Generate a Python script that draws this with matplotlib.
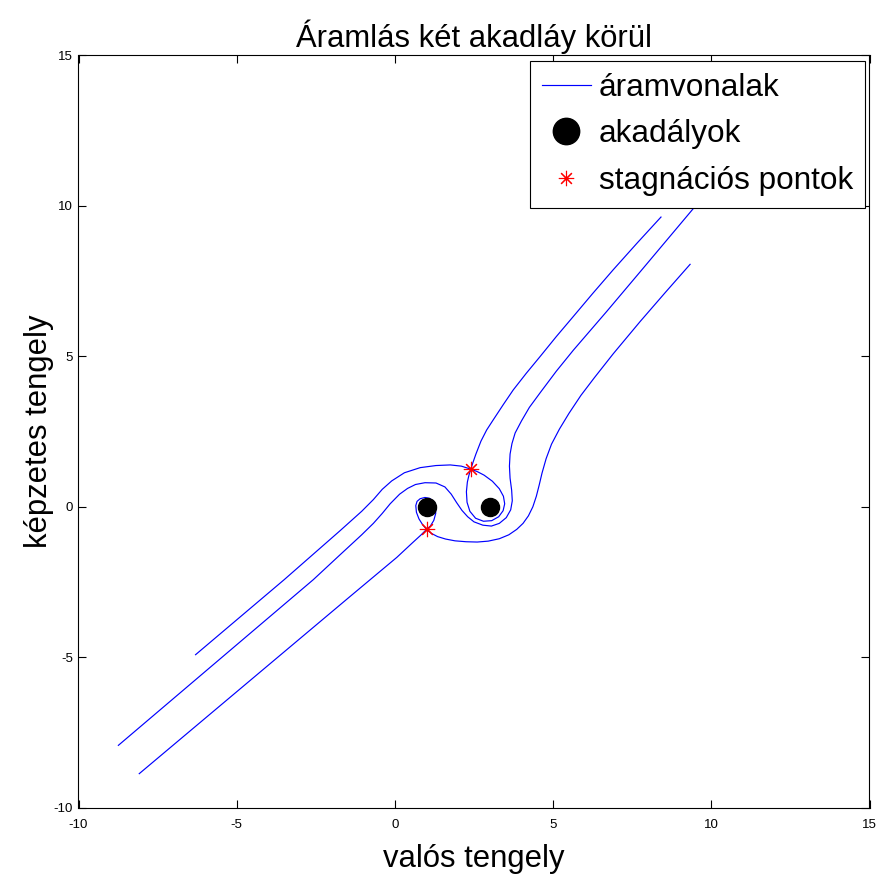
import matplotlib
matplotlib.use("Agg")
import matplotlib.pyplot as plt

plt.rcParams['font.family'] = ['Liberation Sans', 'DejaVu Sans']
plt.rcParams['axes.unicode_minus'] = False

# ---- data ----
# streamline A: from lower-left to upper stagnation point
a_low_x = [-6.30, -3.50, -1.74, -1.05, -0.68, -0.40, -0.10, 0.30, 0.80, 1.30, 1.75, 2.10, 2.40]
a_low_y = [-4.91, -2.42, -0.80, -0.15, 0.24, 0.58, 0.86, 1.13, 1.30, 1.37, 1.39, 1.35, 1.25]
# streamline A: branch from upper stagnation point to upper-right
a_up_x = [2.40, 2.47, 2.56, 2.72, 2.90, 3.11, 3.43, 3.74, 4.15, 4.59, 5.10, 5.64, 6.25, 6.90, 7.65, 8.41]
a_up_y = [1.25, 1.48, 1.75, 2.18, 2.55, 2.89, 3.40, 3.88, 4.43, 4.99, 5.65, 6.32, 7.08, 7.87, 8.75, 9.62]
# closed loop around obstacle 2
loop2_x = [2.40, 2.60, 2.82, 3.08, 3.30, 3.43, 3.47, 3.42, 3.28, 3.06, 2.80, 2.55, 2.37, 2.28, 2.26, 2.29, 2.34, 2.40]
loop2_y = [1.25, 1.17, 1.05, 0.85, 0.60, 0.35, 0.10, -0.13, -0.33, -0.46, -0.48, -0.38, -0.15, 0.15, 0.50, 0.82, 1.05, 1.25]
# streamline B: middle one, winding between obstacles
b_x = [-8.74, -2.58, -1.74, -1.05, -0.68, -0.40, -0.15, 0.15, 0.40, 0.65, 0.95, 1.30, 1.58, 1.78, 1.95,
       2.12, 2.30, 2.50, 2.78, 3.05, 3.30, 3.52, 3.66, 3.71, 3.69, 3.64, 3.62, 3.64, 3.70, 3.80,
       4.00, 4.25, 4.60, 5.10, 5.64, 6.69, 7.75, 9.43, 9.75]
b_y = [-7.92, -2.42, -1.60, -0.93, -0.55, -0.22, 0.10, 0.42, 0.61, 0.74, 0.80, 0.79, 0.66, 0.42, 0.14,
       -0.12, -0.33, -0.50, -0.61, -0.64, -0.55, -0.36, -0.10, 0.20, 0.55, 0.95, 1.35, 1.75, 2.10, 2.45,
       2.85, 3.30, 3.80, 4.50, 5.20, 6.48, 7.80, 9.90, 10.30]
# streamline C: from lower-left to lower stagnation point
c_low_x = [-8.08, -1.42, 0.06, 0.55, 0.82, 1.00]
c_low_y = [-8.86, -2.98, -1.68, -1.20, -0.94, -0.75]
# closed loop around obstacle 1
loop1_x = [1.00, 0.88, 0.76, 0.68, 0.66, 0.70, 0.80, 0.95, 1.10, 1.22, 1.29, 1.29, 1.23, 1.12, 1.00]
loop1_y = [-0.75, -0.60, -0.40, -0.18, 0.04, 0.18, 0.27, 0.31, 0.28, 0.18, 0.02, -0.22, -0.45, -0.64, -0.75]
# streamline C: from lower stagnation point to upper-right
c_up_x = [1.00, 1.15, 1.35, 1.60, 1.90, 2.25, 2.60, 2.95, 3.30, 3.60, 3.85, 4.05, 4.22, 4.36, 4.47,
          4.56, 4.65, 4.78, 4.95, 5.20, 5.50, 5.88, 6.30, 6.90, 7.75, 8.55, 9.33]
c_up_y = [-0.75, -0.88, -0.99, -1.07, -1.13, -1.16, -1.17, -1.14, -1.06, -0.93, -0.75, -0.55, -0.30, 0.00, 0.35,
          0.72, 1.12, 1.60, 2.08, 2.58, 3.10, 3.70, 4.28, 5.08, 6.15, 7.12, 8.05]

obstacle_x = [1.0, 3.0]
obstacle_y = [0.0, 0.0]
stagnation_x = [1.00, 2.40]
stagnation_y = [-0.75, 1.25]

title_text = "Áramlás két akadláy körül"
xlabel_text = "valós tengely"
ylabel_text = "képzetes tengely"
legend_labels = ["áramvonalak", "akadályok", "stagnációs pontok"]
ticks = [-10, -5, 0, 5, 10, 15]

# ---- figure ----
fig = plt.figure(figsize=(8.79, 8.76), dpi=100)
ax = fig.add_axes([78.5 / 879, (876 - 808) / 876, 791 / 879, 753 / 876])

blue = "#0000ff"
lw = 0.85
h_line, = ax.plot(a_low_x, a_low_y, color=blue, lw=lw, zorder=2)
for xs, ys in [(a_up_x, a_up_y), (loop2_x, loop2_y), (b_x, b_y),
               (c_low_x, c_low_y), (loop1_x, loop1_y), (c_up_x, c_up_y)]:
    ax.plot(xs, ys, color=blue, lw=lw, zorder=2)

h_obs, = ax.plot(obstacle_x, obstacle_y, linestyle="none", marker="o", markersize=13,
                 markerfacecolor="black", markeredgecolor="black", zorder=3)
h_stag, = ax.plot(stagnation_x, stagnation_y, linestyle="none", marker=(8, 2, 0), markersize=11,
                  markeredgecolor="red", markeredgewidth=0.8, color="red", zorder=4)

ax.set_xlim(-10, 15)
ax.set_ylim(-10, 15)
ax.set_xticks(ticks)
ax.set_yticks(ticks)
ax.tick_params(direction="in", length=5.8, width=0.8, top=True, right=True, labelsize=9.5)
ax.tick_params(axis="x", pad=8)
ax.tick_params(axis="y", pad=4)
for sp in ax.spines.values():
    sp.set_linewidth(0.8)

ax.set_title(title_text, fontsize=22.3, pad=6)
ax.set_xlabel(xlabel_text, fontsize=22.3, labelpad=9)
ax.set_ylabel(ylabel_text, fontsize=22.3, labelpad=0)

leg = ax.legend([h_line, h_obs, h_stag], legend_labels, loc="upper right",
                bbox_to_anchor=(0.994, 0.992), borderaxespad=0, fontsize=22.7,
                handlelength=1.55, handletextpad=0.25, labelspacing=0.52,
                borderpad=0.38, fancybox=False, framealpha=1, edgecolor="black")
leg.get_frame().set_linewidth(0.8)
leg.legend_handles[1].set_markersize(19)

fig.savefig("out.png", dpi=100)
